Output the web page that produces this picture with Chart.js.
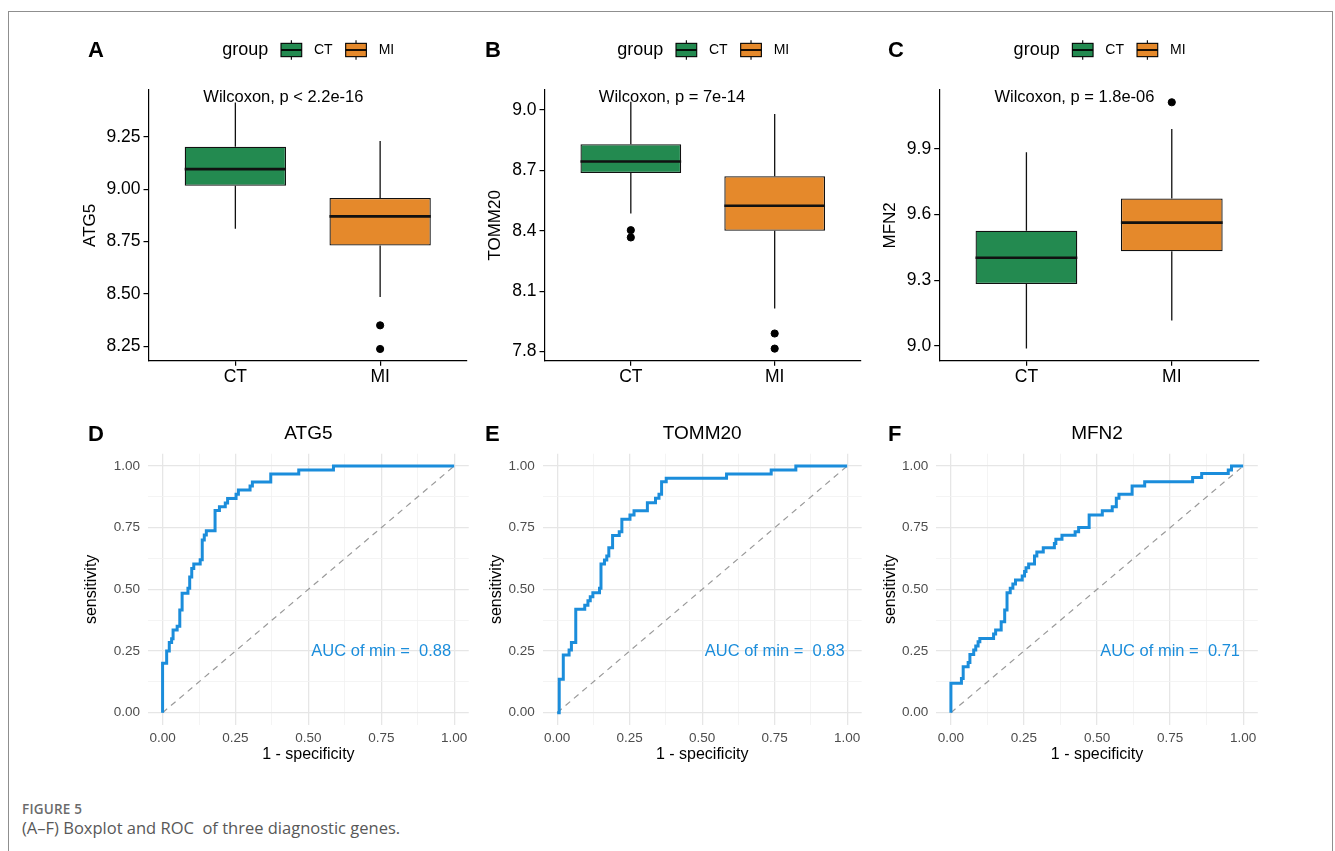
<!DOCTYPE html>
<html>
<head>
<meta charset="utf-8">
<title>Figure 5</title>
<script src="https://cdn.jsdelivr.net/npm/chart.js@4/dist/chart.umd.min.js"></script>
<style>
body { margin: 0; background: #fff; }
#page { position: relative; width: 1335px; height: 851px; overflow: hidden; background: #fff; }
#frame { position: absolute; left: 8px; top: 11px; width: 1325px; height: 860px; border: 1.5px solid #8f8f8f; border-bottom: none; box-sizing: border-box; }
canvas { position: absolute; }
.tag { position: absolute; font: bold 22px/22px "Liberation Sans", Arial, sans-serif; color: #000; }
.fig { position: absolute; left: 22px; top: 802px; font: 600 13.5px/14px "Open Sans", sans-serif; color: #6b6b6b; letter-spacing: 0.2px; }
.cap { position: absolute; left: 22px; top: 819.5px; font: 16.5px/16.5px "Open Sans", sans-serif; color: #585858; white-space: pre; }
</style>
</head>
<body>
<div id="page">
  <div id="frame"></div>

  <canvas id="boxA" width="404" height="375" style="left:68px;top:25px;width:404px;height:375px"></canvas>
  <canvas id="boxB" width="394" height="375" style="left:472px;top:25px;width:394px;height:375px"></canvas>
  <canvas id="boxC" width="398" height="375" style="left:866px;top:25px;width:398px;height:375px"></canvas>
  <canvas id="rocD" width="403" height="347" style="left:70px;top:418px;width:403px;height:347px"></canvas>
  <canvas id="rocE" width="393" height="347" style="left:473px;top:418px;width:393px;height:347px"></canvas>
  <canvas id="rocF" width="396" height="347" style="left:866px;top:418px;width:396px;height:347px"></canvas>

  <div class="tag" style="left:88px;top:39px">A</div>
  <div class="tag" style="left:485px;top:39px">B</div>
  <div class="tag" style="left:888px;top:39px">C</div>
  <div class="tag" style="left:88px;top:423px">D</div>
  <div class="tag" style="left:485px;top:423px">E</div>
  <div class="tag" style="left:888px;top:423px">F</div>

  <div class="fig">FIGURE 5</div>
  <div class="cap">(A–F) Boxplot and ROC  of three diagnostic genes.</div>
</div>

<script>
Chart.defaults.font.family = '"Liberation Sans", Arial, Helvetica, sans-serif';
Chart.defaults.animation = false;

const groups = ['CT', 'MI'];
const groupColors = ['#238a50', '#e5892b'];
const pLabels = ['Wilcoxon, p < 2.2e-16', 'Wilcoxon, p = 7e-14', 'Wilcoxon, p = 1.8e-06'];

// box stats, [CT, MI]
const atg5Low = [8.812, 8.485];
const atg5Q1 = [9.017, 8.732];
const atg5Median = [9.097, 8.871];
const atg5Q3 = [9.204, 8.959];
const atg5High = [9.415, 9.231];
const atg5Outliers = [[], [8.35, 8.237]];
const atg5Ticks = [8.25, 8.5, 8.75, 9.0, 9.25];

const tomm20Low = [8.486, 8.014];
const tomm20Q1 = [8.687, 8.400];
const tomm20Median = [8.744, 8.524];
const tomm20Q3 = [8.830, 8.671];
const tomm20High = [9.041, 8.980];
const tomm20Outliers = [[8.403, 8.367], [7.89, 7.815]];
const tomm20Ticks = [7.8, 8.1, 8.4, 8.7, 9.0];

const mfn2Low = [8.989, 9.116];
const mfn2Q1 = [9.283, 9.432];
const mfn2Median = [9.403, 9.563];
const mfn2Q3 = [9.526, 9.673];
const mfn2High = [9.884, 9.99];
const mfn2Outliers = [[], [10.112]];
const mfn2Ticks = [9.0, 9.3, 9.6, 9.9];

// ROC curves (1 - specificity, sensitivity)
const atg5Fpr = [0, 0, 0.014, 0.023, 0.031, 0.036, 0.050, 0.059, 0.067, 0.087, 0.093, 0.100, 0.107, 0.129, 0.136, 0.143, 0.150, 0.180, 0.195, 0.215, 0.223, 0.252, 0.260, 0.300, 0.308, 0.371, 0.467, 0.586, 1.0];
const atg5Tpr = [0, 0.20, 0.25, 0.284, 0.30, 0.335, 0.35, 0.416, 0.484, 0.504, 0.55, 0.585, 0.603, 0.62, 0.70, 0.72, 0.738, 0.82, 0.835, 0.85, 0.868, 0.886, 0.903, 0.919, 0.935, 0.968, 0.984, 1.0, 1.0];

const tomm20Fpr = [0, 0.007, 0.021, 0.041, 0.049, 0.064, 0.095, 0.106, 0.114, 0.123, 0.146, 0.151, 0.163, 0.171, 0.178, 0.191, 0.214, 0.223, 0.251, 0.265, 0.311, 0.339, 0.351, 0.360, 0.376, 0.584, 0.738, 0.823, 1.0];
const tomm20Tpr = [0, 0.135, 0.234, 0.254, 0.284, 0.419, 0.436, 0.454, 0.470, 0.486, 0.504, 0.603, 0.619, 0.635, 0.669, 0.718, 0.734, 0.784, 0.801, 0.819, 0.851, 0.869, 0.886, 0.936, 0.950, 0.968, 0.984, 1.0, 1.0];

const mfn2Fpr = [0, 0, 0.036, 0.042, 0.059, 0.065, 0.078, 0.085, 0.093, 0.099, 0.146, 0.153, 0.172, 0.184, 0.192, 0.203, 0.212, 0.221, 0.244, 0.252, 0.257, 0.266, 0.286, 0.294, 0.316, 0.354, 0.359, 0.380, 0.425, 0.437, 0.473, 0.518, 0.552, 0.566, 0.575, 0.620, 0.663, 0.827, 0.858, 0.949, 0.960, 1.0];
const mfn2Tpr = [0, 0.119, 0.139, 0.186, 0.203, 0.236, 0.254, 0.270, 0.288, 0.301, 0.319, 0.335, 0.369, 0.416, 0.486, 0.504, 0.522, 0.538, 0.554, 0.572, 0.588, 0.603, 0.635, 0.651, 0.669, 0.686, 0.703, 0.719, 0.734, 0.751, 0.801, 0.819, 0.835, 0.869, 0.886, 0.919, 0.936, 0.953, 0.970, 0.984, 1.0, 1.0];

const aucValues = [0.88, 0.83, 0.71];
const rocMajor = [0, 0.25, 0.5, 0.75, 1];
const rocMinor = [0.125, 0.375, 0.625, 0.875];
const diagLine = [0, 1];

const FONT = '"Liberation Sans", Arial, sans-serif';

function drawLegend(ctx, cx, cy) {
  ctx.save();
  ctx.textBaseline = 'middle';
  ctx.textAlign = 'left';
  ctx.fillStyle = '#000';
  ctx.font = '18px ' + FONT;
  const wTitle = ctx.measureText('group').width;
  ctx.font = '14px ' + FONT;
  const wItems = groups.map(g => ctx.measureText(g).width);
  const key = 20.7, kh = 13.3;
  const total = wTitle + 12.7 + key + 12.3 + wItems[0] + 13 + key + 11.3 + wItems[1];
  let x = cx - total / 2;
  ctx.font = '18px ' + FONT;
  ctx.fillText('group', x, cy);
  x += wTitle + 12.7;
  groups.forEach((g, i) => {
    ctx.strokeStyle = '#000';
    ctx.lineWidth = 1.1;
    ctx.beginPath();
    ctx.moveTo(x + key / 2, cy - kh / 2 - 3); ctx.lineTo(x + key / 2, cy - kh / 2);
    ctx.moveTo(x + key / 2, cy + kh / 2); ctx.lineTo(x + key / 2, cy + kh / 2 + 3);
    ctx.stroke();
    ctx.fillStyle = groupColors[i];
    ctx.fillRect(x, cy - kh / 2, key, kh);
    ctx.strokeRect(x, cy - kh / 2, key, kh);
    ctx.lineWidth = 1.8;
    ctx.beginPath();
    ctx.moveTo(x, cy); ctx.lineTo(x + key, cy);
    ctx.stroke();
    x += key + 12.3;
    ctx.fillStyle = '#000';
    ctx.font = '14px ' + FONT;
    ctx.fillText(g, x, cy);
    x += wItems[i] + 13;
  });
  ctx.restore();
}

function boxDecor(low, q1, med, q3, high, pText) {
  return {
    id: 'boxDecor',
    afterDatasetsDraw(chart) {
      const { ctx, scales: { x, y } } = chart;
      ctx.save();
      ctx.strokeStyle = '#111';
      groups.forEach((g, i) => {
        const cx = x.getPixelForValue(i + 1);
        ctx.lineWidth = 1.3;
        ctx.beginPath();
        ctx.moveTo(cx, y.getPixelForValue(q3[i])); ctx.lineTo(cx, y.getPixelForValue(high[i]));
        ctx.moveTo(cx, y.getPixelForValue(q1[i])); ctx.lineTo(cx, y.getPixelForValue(low[i]));
        ctx.stroke();
        ctx.lineWidth = 2.6;
        ctx.beginPath();
        ctx.moveTo(x.getPixelForValue(i + 0.65), y.getPixelForValue(med[i]));
        ctx.lineTo(x.getPixelForValue(i + 1.35), y.getPixelForValue(med[i]));
        ctx.stroke();
      });
      ctx.restore();
    },
    afterDraw(chart) {
      const { ctx, chartArea, scales: { x } } = chart;
      drawLegend(ctx, (chartArea.left + chartArea.right) / 2, 25);
      ctx.save();
      ctx.font = '16.5px ' + FONT;
      ctx.fillStyle = '#000';
      ctx.textAlign = 'left';
      ctx.textBaseline = 'middle';
      ctx.fillText(pText, x.getPixelForValue(1) - 32, chartArea.top + 7);
      ctx.restore();
    }
  };
}

function boxChart(id, gene, geo, stats, outliers, ticks, decimals, yMin, yMax, pText) {
  const [low, q1, med, q3, high] = stats;
  const outPts = [];
  outliers.forEach((list, i) => list.forEach(v => outPts.push({ x: i + 1, y: v })));
  const axisLine = { display: true, drawOnChartArea: false, drawTicks: true, tickLength: 5, color: '#000', lineWidth: 1.2 };
  return new Chart(document.getElementById(id), {
    type: 'bar',
    data: {
      datasets: [{
        data: groups.map((g, i) => ({ x: i + 1, y: [q1[i], q3[i]] })),
        backgroundColor: groupColors,
        borderColor: '#111',
        borderWidth: 1.3,
        borderSkipped: false,
        barPercentage: 0.7,
        categoryPercentage: 1
      }, {
        type: 'scatter',
        data: outPts,
        backgroundColor: '#000',
        borderColor: '#000',
        pointRadius: 3.6
      }]
    },
    options: {
      responsive: false,
      layout: { padding: { top: geo.top, right: geo.right, left: 0, bottom: 0 } },
      plugins: { legend: { display: false }, tooltip: { enabled: false } },
      scales: {
        x: {
          type: 'linear', min: 0.4, max: 2.6, offset: false,
          grid: Object.assign({ offset: false }, axisLine),
          border: { display: true, color: '#000', width: 1.2 },
          afterBuildTicks: s => { s.ticks = groups.map((g, i) => ({ value: i + 1 })); },
          ticks: { color: '#000', font: { size: 17.5 }, padding: 0.5, autoSkip: false, maxRotation: 0,
                   callback: v => groups[v - 1] },
          afterFit: s => { s.height = geo.xh; }
        },
        y: {
          type: 'linear', min: yMin, max: yMax, beginAtZero: false,
          grid: axisLine,
          border: { display: true, color: '#000', width: 1.2 },
          afterBuildTicks: s => { s.ticks = ticks.map(v => ({ value: v })); },
          ticks: { color: '#000', font: { size: 17.5 }, padding: 3, callback: v => v.toFixed(decimals) },
          title: { display: true, text: gene, color: '#000', font: { size: 17 }, padding: { top: geo.tp, bottom: 0 } },
          afterFit: s => { s.width = geo.yw; }
        }
      }
    },
    plugins: [boxDecor(low, q1, med, q3, high, pText)]
  });
}

function aucText(auc) {
  return {
    id: 'aucText',
    afterDatasetsDraw(chart) {
      const { ctx, scales: { x, y } } = chart;
      ctx.save();
      ctx.font = '16.5px ' + FONT;
      ctx.fillStyle = '#1b8ddb';
      ctx.textAlign = 'center';
      ctx.textBaseline = 'middle';
      ctx.fillText('AUC of min =  ' + auc.toFixed(2), x.getPixelForValue(0.75), y.getPixelForValue(0.25));
      ctx.restore();
    }
  };
}

function rocChart(id, gene, geo, fpr, tpr, auc) {
  const allTicks = rocMajor.concat(rocMinor).sort((a, b) => a - b);
  const isMajor = v => rocMajor.some(m => Math.abs(m - v) < 1e-6);
  const grid = {
    color: c => (c.tick && isMajor(c.tick.value)) ? '#e6e6e6' : '#f1f1f1',
    lineWidth: c => (c.tick && isMajor(c.tick.value)) ? 1.3 : 0.8,
    drawTicks: false
  };
  return new Chart(document.getElementById(id), {
    type: 'scatter',
    data: {
      datasets: [{
        data: fpr.map((v, i) => ({ x: v, y: tpr[i] })),
        showLine: true, stepped: 'before',
        borderColor: '#1b8ddb', borderWidth: 3, pointRadius: 0
      }, {
        data: diagLine.map(v => ({ x: v, y: v })),
        showLine: true, borderColor: '#9a9a9a', borderWidth: 1.2,
        borderDash: [6, 5], pointRadius: 0
      }]
    },
    options: {
      responsive: false,
      layout: { padding: { top: 0, right: geo.right, left: 0, bottom: 0 } },
      plugins: {
        legend: { display: false }, tooltip: { enabled: false },
        title: { display: true, text: gene, fullSize: false, color: '#000',
                 font: { size: 19, weight: 'normal' }, padding: { top: 4.6, bottom: 8.3 } }
      },
      scales: {
        x: {
          min: -0.05, max: 1.05, grid: grid, border: { display: false },
          afterBuildTicks: s => { s.ticks = allTicks.map(v => ({ value: v })); },
          ticks: { color: '#4d4d4d', font: { size: 13.5 }, padding: 5.5, autoSkip: false, maxRotation: 0,
                   callback: v => isMajor(v) ? v.toFixed(2) : '' },
          title: { display: true, text: '1 - specificity', color: '#000', font: { size: 16 }, padding: { top: 0, bottom: 0.4 } },
          afterFit: s => { s.height = 40; }
        },
        y: {
          min: -0.05, max: 1.05, grid: grid, border: { display: false },
          afterBuildTicks: s => { s.ticks = allTicks.map(v => ({ value: v })); },
          ticks: { color: '#4d4d4d', font: { size: 13.5 }, padding: 8, autoSkip: false,
                   callback: v => isMajor(v) ? v.toFixed(2) : '' },
          title: { display: true, text: 'sensitivity', color: '#000', font: { size: 16 }, padding: { top: geo.tp, bottom: 0 } },
          afterFit: s => { s.width = geo.yw; }
        }
      }
    },
    plugins: [aucText(auc)]
  });
}

boxChart('boxA', 'ATG5', { top: 65, right: 2.4, yw: 80.5, xh: 39.3, tp: 11.8 },
  [atg5Low, atg5Q1, atg5Median, atg5Q3, atg5High], atg5Outliers, atg5Ticks, 2, 8.181, 9.475, pLabels[0]);
boxChart('boxB', 'TOMM20', { top: 65, right: 1.8, yw: 72.5, xh: 39.3, tp: 13.6 },
  [tomm20Low, tomm20Q1, tomm20Median, tomm20Q3, tomm20High], tomm20Outliers, tomm20Ticks, 1, 7.755, 9.099, pLabels[1]);
boxChart('boxC', 'MFN2', { top: 65, right: 3.7, yw: 73.2, xh: 39.3, tp: 14.6 },
  [mfn2Low, mfn2Q1, mfn2Median, mfn2Q3, mfn2High], mfn2Outliers, mfn2Ticks, 1, 8.933, 10.168, pLabels[2]);

rocChart('rocD', 'ATG5', { right: 1.6, yw: 78, tp: 12.1 }, atg5Fpr, atg5Tpr, aucValues[0]);
rocChart('rocE', 'TOMM20', { right: 1.4, yw: 69.7, tp: 14.1 }, tomm20Fpr, tomm20Tpr, aucValues[1]);
rocChart('rocF', 'MFN2', { right: 2.3, yw: 70.3, tp: 15.1 }, mfn2Fpr, mfn2Tpr, aucValues[2]);
</script>
</body>
</html>
